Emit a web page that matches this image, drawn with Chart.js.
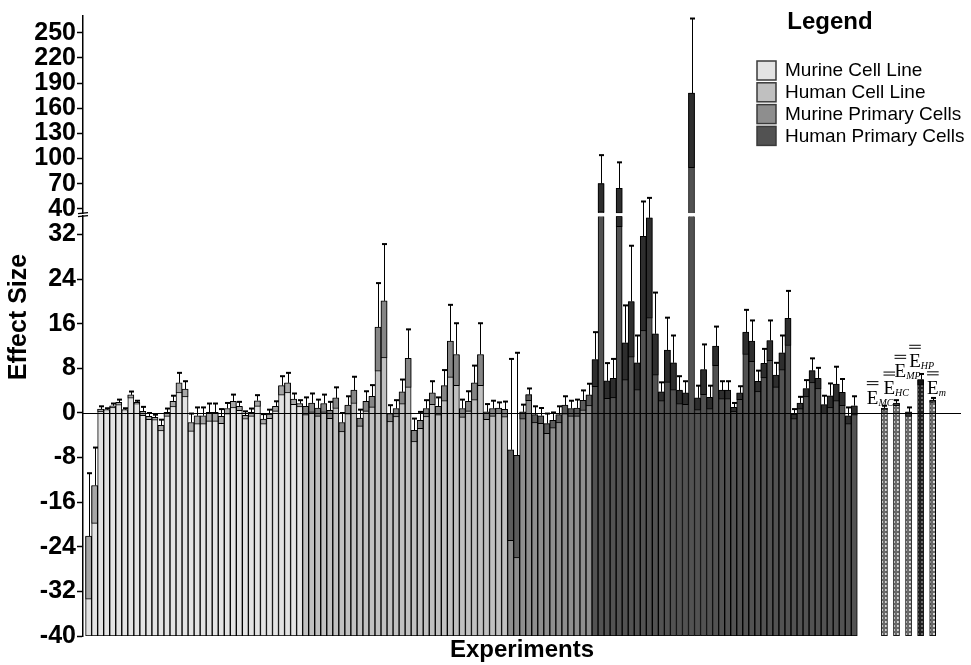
<!DOCTYPE html>
<html><head><meta charset="utf-8">
<script src="https://cdn.jsdelivr.net/npm/chart.js@4.4.1/dist/chart.umd.min.js"></script>
<style>html,body{margin:0;padding:0;background:#fff}#wrap{width:971px;height:665px;position:relative}</style>
</head><body><div id="wrap"><canvas id="c"></canvas></div>
<script>
// ---------- data ----------
const groupNames = ['Murine Cell Line', 'Human Cell Line', 'Murine Primary Cells', 'Human Primary Cells'];
const groupSizes = [36, 34, 14, 44];
const means = [
  -22.1, -13.0, 0.7, 0.6, 1.3, 1.9, 0.6, 3.25, 1.9, 0.3,
  -0.6, -0.8, -2.2, 0.1, 2.1, 5.4, 4.3, -1.7, -0.5, -0.5,
  0.1, 0.1, -0.6, 0.8, 2.1, 1.2, -0.4, 0.1, 2.2, -1.1,
  -0.2, 1.2, 4.9, 5.4, 2.5, 1.7, 1.2, 1.8, 0.9, 1.7,
  0.5, 2.7, -1.7, 1.4, 4.1, -0.9, 2.1, 3.0, 15.4, 20.1,
  -0.1, 0.8, 3.8, 9.8, -3.1, -1.3, 0.8, 3.6, 1.2, 4.9,
  12.9, 10.5, 0.8, 2.1, 5.4, 10.5, 0.2, 0.8, 0.9, 0.65,
  -6.6, -7.6, 0.2, 3.3, -0.3, -0.5, -1.9, -1.3, -0.3, 1.4,
  0.8, 0.9, 2.25, 3.25, 9.6, 70, 5.75, 6.2, 64.4, 12.6,
  20.0, 9.0, 31.7, 35.0, 14.2, 3.8, 11.3, 9.0, 4.1, 3.6,
  178, 2.7, 7.8, 2.8, 12.0, 4.1, 4.1, 1.0, 3.6, 14.5,
  12.9, 5.7, 8.9, 13.0, 6.8, 10.8, 17.0, -0.2, 1.8, 4.4,
  7.6, 6.2, 1.5, 3.1, 5.2, 3.7, -0.5, 1.3
];
const errors = [
  11.3, 6.8, 0.5, 0.25, 0.4, 0.5, 0.25, 0.6, 0.3, 0.8,
  0.6, 0.5, 1.0, 0.7, 1.0, 1.8, 1.4, 1.6, 1.5, 1.5,
  1.6, 1.6, 1.3, 1.0, 1.2, 0.8, 0.7, 0.7, 1.0, 0.9,
  0.8, 0.9, 1.7, 1.8, 1.0, 0.6, 1.6, 1.7, 1.5, 1.6,
  1.5, 1.9, 1.7, 1.6, 2.4, 1.5, 1.8, 2.0, 7.9, 10.2,
  1.5, 1.5, 2.2, 5.2, 2.1, 1.5, 1.5, 2.1, 1.6, 2.8,
  6.5, 5.6, 1.6, 1.8, 3.1, 5.6, 1.4, 1.4, 1.0, 1.4,
  16.3, 18.4, 1.3, 1.1, 1.5, 1.4, 1.8, 1.4, 1.5, 1.6,
  1.4, 1.5, 1.8, 2.0, 4.9, 34, 3.2, 3.5, 31, 6.7,
  10, 4.9, 17, 18, 7.4, 1.7, 5.8, 4.9, 2.5, 2.1,
  89, 2.2, 4.5, 2.1, 3.5, 1.6, 1.6, 0.8, 1.2, 4.0,
  3.7, 1.9, 2.6, 3.6, 2.2, 3.1, 4.9, 0.9, 1.1, 1.5,
  2.2, 1.9, 1.6, 2.2, 3.1, 2.4, 1.5, 1.7
];
const summaryNames = ['MC', 'HC', 'MP', 'HP', 'm'];
const summaryMeans = [0.9, 1.8, 0.2, 6.0, 2.3];
const summaryErrors = [0.4, 0.5, 0.8, 1.0, 0.4];
const lowTicks = [-40, -32, -24, -16, -8, 0, 8, 16, 24, 32];
const upTicks = [40, 70, 100, 130, 160, 190, 220, 250];

// ---------- styles / layout constants ----------
const bodyColors = ['#e3e3e3', '#c0c0c0', '#8e8e8e', '#525252'];
const boxColors = ['#a6a6a6', '#858585', '#5c5c5c', '#2e2e2e'];
const AX_MIN = -40, LOW_MAX = 35.3, UP_MIN = 34.7, AX_MAX = 270;
const FONT = "'Liberation Sans', Arial, sans-serif";
const SERIF = "'Liberation Serif', 'Times New Roman', serif";
const labelDx = [-17.6, -13, -14, -11.4, -5.6];
const labelDy = [-2, -6, -30, -6.6, -4];

function groupOf(i) {
  let acc = 0;
  for (let g = 0; g < groupSizes.length; g++) { acc += groupSizes[g]; if (i < acc) return g; }
  return groupSizes.length - 1;
}
const sumX = k => means.length + 4 + 2 * k;
const isSummary = x => x >= means.length;

function makePattern(bg, dot) {
  const c = document.createElement('canvas');
  c.width = 4; c.height = 4;
  const g = c.getContext('2d');
  g.fillStyle = bg; g.fillRect(0, 0, 4, 4);
  g.fillStyle = dot; g.fillRect(1, 1, 2, 2);
  return g.createPattern(c, 'repeat');
}
const patLight = makePattern('#6a6a6a', '#d6d6d6');
const patDark = makePattern('#1e1e1e', '#6a6a6a');

const idx = means.map((_, i) => i);
const bodyLow = idx.map(i => ({x: i, y: [AX_MIN, Math.min(means[i], LOW_MAX)]}));
const bodyUp = idx.filter(i => means[i] > LOW_MAX).map(i => ({x: i, y: [UP_MIN, means[i]]}));
const boxLow = idx.filter(i => means[i] - errors[i] < LOW_MAX)
  .map(i => ({x: i, y: [Math.max(means[i] - errors[i], AX_MIN), Math.min(means[i], LOW_MAX)]}));
const boxUp = idx.filter(i => means[i] > LOW_MAX)
  .map(i => ({x: i, y: [Math.max(means[i] - errors[i], UP_MIN), means[i]]}));
const sumBody = summaryMeans.map((m, k) => ({x: sumX(k), y: [AX_MIN, m]}));
const sumBox = summaryMeans.map((m, k) => ({x: sumX(k), y: [m - summaryErrors[k], m]}));

const common = {type: 'bar', grouped: false, barPercentage: 1, categoryPercentage: 1,
  borderWidth: 1, borderColor: '#000'};

const overlay = {
  id: 'overlay',
  afterDatasetsDraw(chart) {
    const {ctx, chartArea, scales} = chart;
    const xs = scales.x, yl = scales.yLow, yu = scales.yUp;
    const toPx = v => v <= LOW_MAX ? yl.getPixelForValue(v) : yu.getPixelForValue(Math.max(v, UP_MIN));
    ctx.save();
    ctx.strokeStyle = '#000';
    // zero line
    const y0 = Math.round(yl.getPixelForValue(0)) + 0.5;
    ctx.lineWidth = 1;
    ctx.beginPath(); ctx.moveTo(chartArea.left, y0); ctx.lineTo(chartArea.right, y0); ctx.stroke();
    // whiskers
    const whisker = (xv, m, e) => {
      const x = Math.round(xs.getPixelForValue(xv)) + 0.5;
      const ya = toPx(m), yb = toPx(m + e);
      ctx.lineWidth = 1;
      ctx.beginPath(); ctx.moveTo(x, ya); ctx.lineTo(x, yb); ctx.stroke();
      ctx.lineWidth = 2;
      ctx.beginPath(); ctx.moveTo(x - 2.5, yb); ctx.lineTo(x + 2.5, yb); ctx.stroke();
    };
    idx.forEach(i => whisker(i, means[i], errors[i]));
    summaryMeans.forEach((m, k) => whisker(sumX(k), m, summaryErrors[k]));
    // axis break marks
    const xl = chartArea.left;
    ctx.lineWidth = 1.2;
    [yl.top, yu.bottom].forEach(yy => {
      ctx.beginPath(); ctx.moveTo(xl - 5, yy + 0.5); ctx.lineTo(xl + 5, yy - 0.5); ctx.stroke();
    });
    // summary labels
    ctx.fillStyle = '#000';
    ctx.textBaseline = 'alphabetic';
    summaryNames.forEach((s, k) => {
      const x = xs.getPixelForValue(sumX(k)) + labelDx[k];
      const base = toPx(summaryMeans[k] + summaryErrors[k]) + labelDy[k];
      ctx.font = '19px ' + SERIF;
      ctx.textAlign = 'left';
      ctx.fillText('E', x, base);
      const w = ctx.measureText('E').width;
      ctx.font = 'italic 10px ' + SERIF;
      ctx.fillText(s, x + w, base + 2);
      const capTop = base - 12.6;
      ctx.lineWidth = 1;
      [capTop - 9.5, capTop - 6.5].forEach(yy => {
        ctx.beginPath(); ctx.moveTo(x, yy); ctx.lineTo(x + w, yy); ctx.stroke();
      });
    });
    ctx.restore();
  },
  afterDraw(chart) {
    const {ctx, chartArea} = chart;
    ctx.save();
    ctx.fillStyle = '#000';
    // y axis title
    ctx.save();
    ctx.translate(19, 317);
    ctx.rotate(-Math.PI / 2);
    ctx.font = 'bold 25px ' + FONT;
    ctx.textAlign = 'center'; ctx.textBaseline = 'middle';
    ctx.fillText('Effect Size', 0, 0);
    ctx.restore();
    // legend
    ctx.font = 'bold 24px ' + FONT;
    ctx.textAlign = 'center'; ctx.textBaseline = 'alphabetic';
    ctx.fillText('Legend', 830, 29);
    ctx.font = '19px ' + FONT;
    ctx.textAlign = 'left'; ctx.textBaseline = 'middle';
    groupNames.forEach((n, g) => {
      const top = 61 + g * 21.8;
      ctx.fillStyle = bodyColors[g];
      ctx.fillRect(757, top, 19, 19);
      ctx.strokeStyle = '#3a3a3a'; ctx.lineWidth = 1.5;
      ctx.strokeRect(757, top, 19, 19);
      ctx.fillStyle = '#000';
      ctx.fillText(n, 785, top + 10);
    });
    ctx.restore();
  }
};

const tickFont = {family: FONT, size: 25, weight: 'bold'};
const fitW = s => { s.width = 83; };

new Chart(document.getElementById('c'), {
  data: {
    datasets: [
      Object.assign({}, common, {data: boxLow, yAxisID: 'yLow', order: 1, borderSkipped: false,
        backgroundColor: c => boxColors[groupOf(c.raw.x)]}),
      Object.assign({}, common, {data: boxUp, yAxisID: 'yUp', order: 1, borderSkipped: false,
        backgroundColor: c => boxColors[groupOf(c.raw.x)]}),
      Object.assign({}, common, {data: bodyLow, yAxisID: 'yLow', order: 2, borderSkipped: 'start',
        backgroundColor: c => bodyColors[groupOf(c.raw.x)]}),
      Object.assign({}, common, {data: bodyUp, yAxisID: 'yUp', order: 2, borderSkipped: 'start',
        backgroundColor: c => bodyColors[groupOf(c.raw.x)]}),
      Object.assign({}, common, {data: sumBox, yAxisID: 'yLow', order: 1, borderSkipped: false,
        backgroundColor: c => c.dataIndex === 3 ? '#111' : '#3c3c3c'}),
      Object.assign({}, common, {data: sumBody, yAxisID: 'yLow', order: 2, borderSkipped: 'start',
        backgroundColor: c => c.dataIndex === 3 ? patDark : patLight})
    ]
  },
  options: {
    responsive: true, maintainAspectRatio: false, animation: false,
    layout: {padding: {top: 10, right: 10, left: 0, bottom: 0}},
    plugins: {legend: {display: false}, tooltip: {enabled: false}},
    scales: {
      x: {type: 'linear', min: -0.93, max: 144.7, offset: false,
        ticks: {display: false}, grid: {display: false}, border: {display: false},
        title: {display: true, text: 'Experiments', color: '#000',
          font: {family: FONT, size: 24, weight: 'bold'}, padding: 0},
        afterFit: s => { s.height = 29; }},
      yLow: {type: 'linear', position: 'left', stack: 'y', stackWeight: 423.6,
        min: AX_MIN, max: LOW_MAX,
        afterBuildTicks: s => { s.ticks = lowTicks.map(v => ({value: v})); },
        ticks: {font: tickFont, color: '#000', padding: 1, autoSkip: false},
        grid: {drawOnChartArea: false, tickLength: 6, tickWidth: 1.5, tickColor: '#000'},
        border: {color: '#000', width: 1.5}, afterFit: fitW},
      yGap: {type: 'linear', position: 'left', stack: 'y', stackWeight: 3, min: 0, max: 1,
        ticks: {display: false}, grid: {display: false}, border: {display: false}, afterFit: fitW},
      yUp: {type: 'linear', position: 'left', stack: 'y', stackWeight: 199,
        min: UP_MIN, max: AX_MAX,
        afterBuildTicks: s => { s.ticks = upTicks.map(v => ({value: v})); },
        ticks: {font: tickFont, color: '#000', padding: 1, autoSkip: false},
        grid: {drawOnChartArea: false, tickLength: 6, tickWidth: 1.5, tickColor: '#000'},
        border: {color: '#000', width: 1.5}, afterFit: fitW}
    }
  },
  plugins: [overlay]
});
</script></body></html>
